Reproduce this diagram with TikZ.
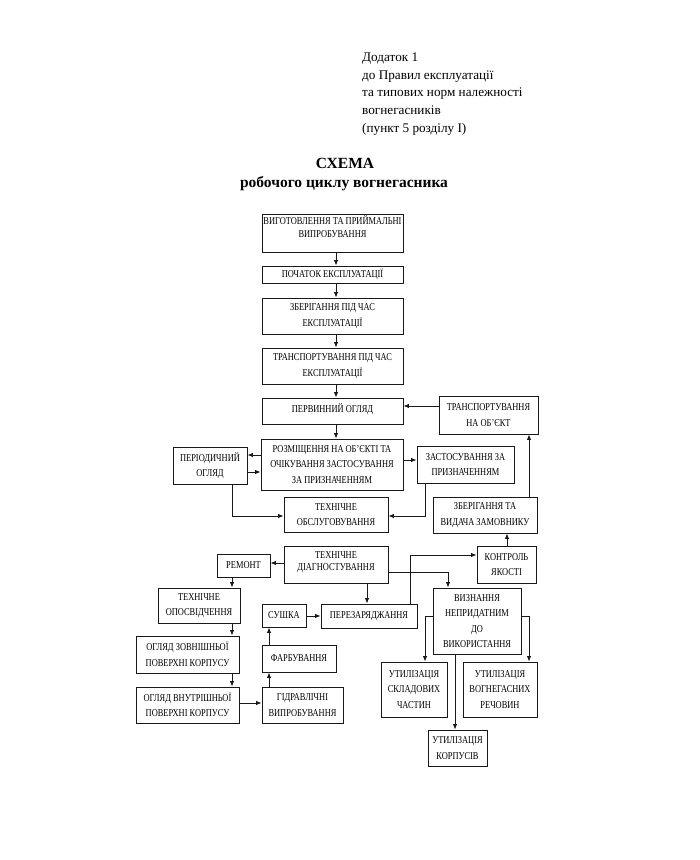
\documentclass[tikz,border=0pt]{standalone}
\usepackage{fontspec}
\setmainfont{Liberation Serif}
\newfontfamily\boxfont[FakeStretch=0.8]{Liberation Serif}
\usetikzlibrary{arrows.meta}
\newcommand\mybox[7][]{%
  \node[bx,minimum width={#5-#3},minimum height={#6-#4},#1] (#2) at ({(#3+#5)/2},{(#4+#6)/2}) {#7};}
\begin{document}
\begin{tikzpicture}[x=1pt,y=-1pt,
  bx/.style={draw=black!90,line width=0.9pt,inner sep=1pt,align=center,
    font=\boxfont\fontsize{10.5}{15.5}\selectfont},
  ln/.style={draw=black!90,line width=0.9pt},
  arr/.style={ln,-{Latex[length=5.5pt,width=4.5pt]}},
  txt/.style={inner sep=0pt}]
\fill[white] (0,0) rectangle (700,860);
\useasboundingbox (0,0) rectangle (700,860);

% header
\node[txt,anchor=north west,align=left,font=\fontsize{13.2}{17.7}\selectfont] (hdr) at (362,52.5)
  {Додаток 1\\до Правил експлуатації\\та типових норм належності\\вогнегасників\\(пункт 5 розділу I)};
\node[txt,anchor=base,font=\bfseries\fontsize{15.5}{20}\selectfont] (t1) at (345,168.5) {СХЕМА};
\node[txt,anchor=base,font=\bfseries\fontsize{15.5}{20}\selectfont] (t2) at (344,187) {робочого циклу вогнегасника};

% boxes
\mybox[font=\boxfont\fontsize{10.5}{13}\selectfont,text depth=14pt]{b1}{262}{215}{403}{252}{ВИГОТОВЛЕННЯ ТА ПРИЙМАЛЬНІ\\ВИПРОБУВАННЯ}
\mybox{b2}{262}{266}{403}{283}{ПОЧАТОК ЕКСПЛУАТАЦІЇ}
\mybox{b3}{262}{298}{403}{334}{ЗБЕРІГАННЯ ПІД ЧАС\\ЕКСПЛУАТАЦІЇ}
\mybox{b4}{262}{348}{403}{384}{ТРАНСПОРТУВАННЯ ПІД ЧАС\\ЕКСПЛУАТАЦІЇ}
\mybox[text depth=6pt]{b5}{262}{398}{403}{424}{ПЕРВИННИЙ ОГЛЯД}
\mybox{tobj}{439}{396}{538}{434}{ТРАНСПОРТУВАННЯ\\НА ОБ’ЄКТ}
\mybox{b6}{261}{439}{403}{490}{РОЗМІЩЕННЯ НА ОБ’ЄКТІ ТА\\ОЧІКУВАННЯ ЗАСТОСУВАННЯ\\ЗА ПРИЗНАЧЕННЯМ}
\mybox{per}{173}{447}{247}{484}{ПЕРІОДИЧНИЙ\\ОГЛЯД}
\mybox{zast}{417}{446}{514}{483}{ЗАСТОСУВАННЯ ЗА\\ПРИЗНАЧЕННЯМ}
\mybox{tobs}{284}{497}{388}{532}{ТЕХНІЧНЕ\\ОБСЛУГОВУВАННЯ}
\mybox{zber}{433}{497}{537}{533}{ЗБЕРІГАННЯ ТА\\ВИДАЧА ЗАМОВНИКУ}
\mybox[font=\boxfont\fontsize{10.5}{12}\selectfont,text depth=6pt]{diag}{284}{546}{388}{583}{ТЕХНІЧНЕ\\ДІАГНОСТУВАННЯ}
\mybox{rem}{217}{554}{270}{577}{РЕМОНТ}
\mybox{kontr}{477}{546}{536}{583}{КОНТРОЛЬ\\ЯКОСТІ}
\mybox{opos}{158}{588}{240}{623}{ТЕХНІЧНЕ\\ОПОСВІДЧЕННЯ}
\mybox{sush}{262}{604}{306}{627}{СУШКА}
\mybox{perez}{321}{604}{417}{628}{ПЕРЕЗАРЯДЖАННЯ}
\mybox{vyzn}{433}{588}{521}{654}{ВИЗНАННЯ\\НЕПРИДАТНИМ\\ДО\\ВИКОРИСТАННЯ}
\mybox{zovn}{136}{636}{239}{673}{ОГЛЯД ЗОВНІШНЬОЇ\\ПОВЕРХНІ КОРПУСУ}
\mybox{farb}{262}{645}{336}{672}{ФАРБУВАННЯ}
\mybox{vnut}{136}{687}{239}{723}{ОГЛЯД ВНУТРІШНЬОЇ\\ПОВЕРХНІ КОРПУСУ}
\mybox{hidr}{262}{687}{343}{723}{ГІДРАВЛІЧНІ\\ВИПРОБУВАННЯ}
\mybox{utsk}{381}{662}{447}{717}{УТИЛІЗАЦІЯ\\СКЛАДОВИХ\\ЧАСТИН}
\mybox{utvog}{463}{662}{537}{717}{УТИЛІЗАЦІЯ\\ВОГНЕГАСНИХ\\РЕЧОВИН}
\mybox{utk}{428}{730}{487}{766}{УТИЛІЗАЦІЯ\\КОРПУСІВ}

% reference coordinates
\coordinate (xa) at (336,0);
\coordinate (xp) at (232,0);
\coordinate (xz) at (425,0);
\coordinate (xt) at (529,0);
\coordinate (xk) at (507,0);
\coordinate (xr) at (232,0);
\coordinate (xf) at (269,0);
\coordinate (xd) at (367,0);
\coordinate (xq) at (410,0);
\coordinate (xv) at (448,0);
\coordinate (xs) at (425,0);
\coordinate (xg) at (529,0);
\coordinate (xu) at (455,0);
\coordinate (y1) at (0,406);
\coordinate (y2) at (0,455);
\coordinate (y3) at (0,472);
\coordinate (y4) at (0,460);
\coordinate (yo) at (0,516);
\coordinate (yr) at (0,563);
\coordinate (yh) at (0,703);
\coordinate (ys) at (0,616);
\coordinate (yk) at (0,555);
\coordinate (yd) at (0,572);
\coordinate (yv) at (0,616);

% connectors
\draw[arr] (b1.south -| xa) -- (b2.north -| xa);
\draw[arr] (b2.south -| xa) -- (b3.north -| xa);
\draw[arr] (b3.south -| xa) -- (b4.north -| xa);
\draw[arr] (b4.south -| xa) -- (b5.north -| xa);
\draw[arr] (b5.south -| xa) -- (b6.north -| xa);
\draw[arr] (tobj.west |- y1) -- (b5.east |- y1);
\draw[arr] (b6.west |- y2) -- (per.east |- y2);
\draw[arr] (per.east |- y3) -- (b6.west |- y3);
\draw[arr] (b6.east |- y4) -- (zast.west |- y4);
\draw[arr] (per.south -| xp) |- (tobs.west |- yo);
\draw[arr] (zast.south -| xz) |- (tobs.east |- yo);
\draw[arr] (zber.north -| xt) -- (tobj.south -| xt);
\draw[arr] (kontr.north -| xk) -- (zber.south -| xk);
\draw[arr] (diag.west |- yr) -- (rem.east |- yr);
\draw[arr] (rem.south -| xr) -- (opos.north -| xr);
\draw[arr] (opos.south -| xr) -- (zovn.north -| xr);
\draw[arr] (zovn.south -| xr) -- (vnut.north -| xr);
\draw[arr] (vnut.east |- yh) -- (hidr.west |- yh);
\draw[arr] (hidr.north -| xf) -- (farb.south -| xf);
\draw[arr] (farb.north -| xf) -- (sush.south -| xf);
\draw[arr] (sush.east |- ys) -- (perez.west |- ys);
\draw[arr] (diag.south -| xd) -- (perez.north -| xd);
\draw[arr] (perez.north -| xq) |- (kontr.west |- yk);
\draw[arr] (diag.east |- yd) -| (vyzn.north -| xv);
\draw[arr] (vyzn.west |- yv) -| (utsk.north -| xs);
\draw[arr] (vyzn.east |- yv) -| (utvog.north -| xg);
\draw[arr] (vyzn.south -| xu) -- (utk.north -| xu);
\end{tikzpicture}
\end{document}
